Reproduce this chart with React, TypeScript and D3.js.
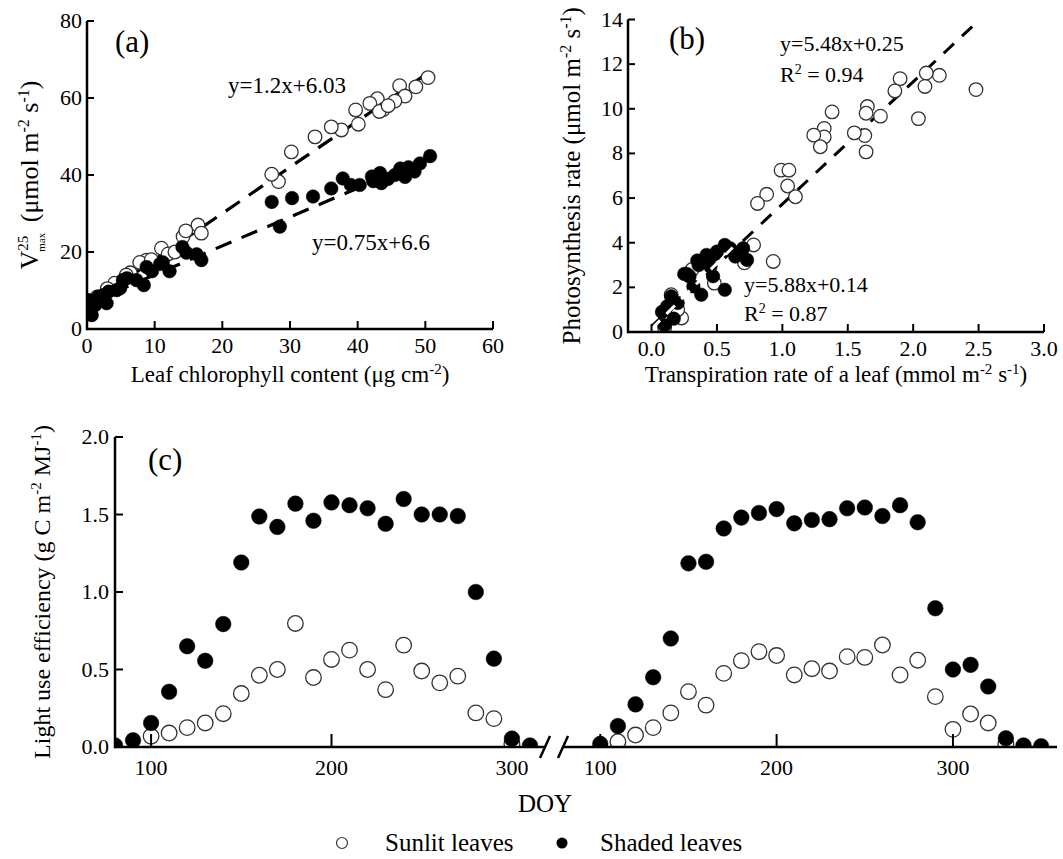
import React from 'react';
import * as d3 from 'd3';

// ---------- Panel (a): Vmax25 vs leaf chlorophyll ----------
const chlSunX = [50.4, 48.6, 46.2, 47.0, 45.5, 42.9, 41.8, 43.8, 43.2, 44.5, 39.7, 40.1, 37.6, 36.1, 33.7, 30.2, 28.3, 27.3, 16.4, 16.9, 14.2, 14.6, 11.0, 12.0, 8.8, 7.8, 6.4, 5.8, 4.1, 3.0, 1.5, 0.5, 9.5, 13.0];
const chlSunY = [65.3, 62.9, 63.2, 60.5, 59.2, 59.8, 58.6, 57.0, 56.5, 58.0, 56.9, 53.2, 51.7, 52.5, 49.9, 46.0, 38.3, 40.2, 27.0, 24.9, 24.0, 25.5, 21.0, 19.5, 17.9, 17.3, 14.6, 14.0, 11.9, 10.5, 8.3, 6.5, 18.0, 20.0];
const chlShX = [50.7, 49.2, 48.4, 47.5, 46.3, 45.5, 47.0, 44.5, 43.3, 42.1, 43.5, 42.3, 40.3, 39.0, 37.8, 36.1, 33.4, 30.3, 27.3, 28.5, 16.9, 16.2, 14.1, 14.7, 12.2, 11.2, 10.8, 9.6, 8.8, 8.4, 7.3, 5.9, 5.3, 4.9, 4.4, 3.2, 2.9, 2.4, 1.7, 1.2, 0.4, 0.7, 0.2, 0.3];
const chlShY = [44.9, 43.0, 40.9, 42.0, 41.7, 40.0, 39.5, 39.0, 40.5, 39.6, 37.9, 38.4, 37.4, 37.4, 39.1, 36.5, 34.4, 34.0, 33.0, 26.6, 17.9, 19.4, 21.3, 19.8, 15.0, 17.3, 16.9, 15.0, 16.1, 11.4, 12.7, 13.2, 12.7, 10.6, 10.1, 9.7, 6.7, 8.8, 8.4, 6.2, 4.5, 3.6, 7.5, 5.5];
const fitA = [
  { slope: 1.2, intercept: 6.03, from: 0, to: 50.5 },
  { slope: 0.75, intercept: 6.6, from: 0, to: 50.5 },
];
const ticksAX = [0, 10, 20, 30, 40, 50, 60];
const ticksAY = [0, 20, 40, 60, 80];

// ---------- Panel (b): photosynthesis vs transpiration ----------
const trSunX = [2.48, 2.2, 2.1, 2.09, 1.9, 1.86, 2.04, 1.75, 1.65, 1.64, 1.63, 1.64, 1.55, 1.38, 1.32, 1.32, 1.24, 1.29, 0.99, 1.05, 1.04, 1.1, 0.88, 0.81, 0.93, 0.78, 0.71, 0.48, 0.23, 0.15, 0.31, 0.1, 0.2];
const trSunY = [10.86, 11.5, 11.6, 11.0, 11.35, 10.8, 9.56, 9.67, 10.1, 9.8, 8.8, 8.07, 8.92, 9.86, 9.12, 8.74, 8.82, 8.3, 7.25, 7.25, 6.54, 6.06, 6.17, 5.76, 3.16, 3.9, 3.1, 2.19, 0.63, 1.67, 2.8, 0.2, 1.0];
const trShX = [0.56, 0.70, 0.73, 0.64, 0.48, 0.41, 0.36, 0.45, 0.29, 0.27, 0.47, 0.32, 0.38, 0.56, 0.15, 0.12, 0.2, 0.1, 0.17, 0.08, 0.25, 0.35, 0.5, 0.42, 0.6];
const trShY = [3.9, 3.75, 3.23, 3.38, 3.46, 3.23, 3.0, 2.93, 2.49, 2.6, 2.5, 2.04, 1.67, 1.89, 1.6, 1.15, 1.3, 0.3, 0.6, 0.9, 2.6, 3.2, 3.6, 3.45, 3.75];
const fitBSun = { slope: 5.48, intercept: 0.25, from: 0, to: 2.46 };
const fitBSh = { slope: 5.88, intercept: 0.14, from: 0.0, to: 0.62 };
const ticksBX = [0, 0.5, 1.0, 1.5, 2.0, 2.5, 3.0];
const ticksBY = [0, 2, 4, 6, 8, 10, 12, 14];

// ---------- Panel (c): light use efficiency vs DOY (two years) ----------
const doyL_sh = [80, 90, 100, 110, 120, 130, 140, 150, 160, 170, 180, 190, 200, 210, 220, 230, 240, 250, 260, 270, 280, 290, 300, 310];
const lueL_sh = [0.01, 0.043, 0.155, 0.356, 0.65, 0.556, 0.793, 1.19, 1.487, 1.42, 1.57, 1.46, 1.578, 1.56, 1.54, 1.44, 1.60, 1.50, 1.50, 1.49, 1.00, 0.57, 0.054, 0.01];
const doyL_sun = [100, 110, 120, 130, 140, 150, 160, 170, 180, 190, 200, 210, 220, 230, 240, 250, 260, 270, 280, 290, 300];
const lueL_sun = [0.069, 0.09, 0.125, 0.155, 0.215, 0.345, 0.463, 0.5, 0.797, 0.448, 0.565, 0.625, 0.5, 0.37, 0.657, 0.49, 0.414, 0.457, 0.22, 0.183, 0.02];
const doyR_sh = [100, 110, 120, 130, 140, 150, 160, 170, 180, 190, 200, 210, 220, 230, 240, 250, 260, 270, 280, 290, 300, 310, 320, 330, 340, 350];
const lueR_sh = [0.02, 0.135, 0.275, 0.45, 0.70, 1.185, 1.195, 1.41, 1.48, 1.51, 1.535, 1.443, 1.465, 1.47, 1.54, 1.545, 1.49, 1.56, 1.45, 0.895, 0.50, 0.53, 0.39, 0.056, 0.01, 0.005];
const doyR_sun = [110, 120, 130, 140, 150, 160, 170, 180, 190, 200, 210, 220, 230, 240, 250, 260, 270, 280, 290, 300, 310, 320, 330];
const lueR_sun = [0.034, 0.077, 0.125, 0.22, 0.357, 0.27, 0.475, 0.557, 0.615, 0.59, 0.465, 0.505, 0.49, 0.583, 0.578, 0.658, 0.465, 0.56, 0.325, 0.114, 0.213, 0.155, 0.02];
const ticksCX = [100, 200, 300];
const ticksCY = [0, 0.5, 1.0, 1.5, 2.0];

const legendLabels = ['Sunlit leaves', 'Shaded leaves'];

const serif = "'Liberation Serif', 'Times New Roman', Times, serif";
const AXW = 2.5;

type Scale = d3.ScaleLinear<number, number>;

function Dots({ xs, ys, sx, sy, filled, r }: { xs: number[]; ys: number[]; sx: Scale; sy: Scale; filled: boolean; r: number }) {
  return (
    <g>
      {xs.map((x, i) => (
        <circle key={i} cx={sx(x)} cy={sy(ys[i])} r={r}
          fill={filled ? '#000' : '#fff'} stroke={filled ? '#000' : '#333'} strokeWidth={filled ? 0.5 : 1.3} />
      ))}
    </g>
  );
}

export default function App() {
  const xA = d3.scaleLinear().domain([0, 60]).range([87, 493]);
  const yA = d3.scaleLinear().domain([0, 80]).range([329, 21]);
  const xB = d3.scaleLinear().domain([-0.18, 3.0]).range([628, 1044]);
  const yB = d3.scaleLinear().domain([0, 14]).range([332, 19.5]);
  const xCL = d3.scaleLinear().domain([80, 320]).range([115, 548]);
  const xCR = d3.scaleLinear().domain([80, 359]).range([565, 1057]);
  const yC = d3.scaleLinear().domain([0, 2]).range([747, 437]);

  const line = (sx: Scale, sy: Scale, f: { slope: number; intercept: number; from: number; to: number }) =>
    d3.line<number>().x((x) => sx(x)).y((x) => sy(f.slope * x + f.intercept))([f.from, f.to]) || '';

  const tickFont = 22;
  const fmt1 = d3.format('.1f');

  const [xa0, xa1] = xA.range();
  const [ya0, ya1] = yA.range();
  const [xb0, xb1] = xB.range();
  const [yb0, yb1] = yB.range();
  const [xl0, xl1] = xCL.range();
  const [xr0, xr1] = xCR.range();
  const [yc0, yc1] = yC.range();

  return (
    <svg width={1063} height={859} style={{ position: 'absolute', left: 0, top: 0, background: '#fff', fontFamily: serif }}>
      <style>{`text { font-family: ${serif}; fill: #000; }`}</style>
      <defs>
        <clipPath id="clipA"><rect x={xa0} y={ya1 - 10} width={xa1 - xa0 + 10} height={ya0 - ya1 + 10} /></clipPath>
        <clipPath id="clipB"><rect x={xb0} y={yb1 - 10} width={xb1 - xb0 + 10} height={yb0 - yb1 + 10} /></clipPath>
        <clipPath id="clipCL"><rect x={xl0} y={yc1 - 10} width={xl1 - xl0} height={yc0 - yc1 + 10} /></clipPath>
        <clipPath id="clipCR"><rect x={xr0} y={yc1 - 10} width={xr1 - xr0 + 5} height={yc0 - yc1 + 10} /></clipPath>
      </defs>
      <rect x={0} y={0} width={1063} height={859} fill="#fff" />

      {/* ---------------- Panel (a) ---------------- */}
      <g>
        <g clipPath="url(#clipA)">
          {fitA.map((f, i) => (
            <path key={i} d={line(xA, yA, f)} stroke="#000" strokeWidth={3.2} strokeDasharray="17 11" fill="none" />
          ))}
          <Dots xs={chlSunX} ys={chlSunY} sx={xA} sy={yA} filled={false} r={6.8} />
          <Dots xs={chlShX} ys={chlShY} sx={xA} sy={yA} filled={true} r={6.8} />
        </g>
        <line x1={xa0} x2={xa0} y1={ya1} y2={ya0 + AXW / 2} stroke="#000" strokeWidth={AXW} />
        <line x1={xa0} x2={xa1} y1={ya0} y2={ya0} stroke="#000" strokeWidth={AXW} />
        {ticksAY.map((t) => (
          <g key={t}>
            <line x1={xa0} x2={xa0 + 7} y1={yA(t)} y2={yA(t)} stroke="#000" strokeWidth={2} />
            <text x={xa0 - 5} y={yA(t) + 7} textAnchor="end" fontSize={tickFont}>{t}</text>
          </g>
        ))}
        {ticksAX.map((t) => (
          <g key={t}>
            <line x1={xA(t)} x2={xA(t)} y1={ya0} y2={ya0 - 8} stroke="#000" strokeWidth={2} />
            <text x={xA(t)} y={ya0 + 24} textAnchor="middle" fontSize={tickFont}>{t}</text>
          </g>
        ))}
        <text x={115} y={52} fontSize={31}>(a)</text>
        <text x={228} y={93} fontSize={23}>y=1.2x+6.03</text>
        <text x={312} y={250} fontSize={23}>y=0.75x+6.6</text>
        <text x={(xa0 + xa1) / 2} y={382} textAnchor="middle" fontSize={23}>
          Leaf chlorophyll content (μg cm<tspan dy={-8} fontSize={15}>-2</tspan><tspan dy={8}>)</tspan>
        </text>
        <text transform={`translate(38,${(ya0 + ya1) / 2}) rotate(-90)`} textAnchor="middle" fontSize={26}>
          V<tspan dy={-10} fontSize={15}>25</tspan><tspan dx={-16} dy={17} fontSize={11}>max</tspan>
          <tspan dy={-7} dx={4}> (μmol m</tspan><tspan dy={-9} fontSize={16}>-2</tspan>
          <tspan dy={9}> s</tspan><tspan dy={-9} fontSize={16}>-1</tspan><tspan dy={9}>)</tspan>
        </text>
      </g>

      {/* ---------------- Panel (b) ---------------- */}
      <g>
        <g clipPath="url(#clipB)">
          <path d={line(xB, yB, fitBSun)} stroke="#000" strokeWidth={3} strokeDasharray="14 11" fill="none" />
          <Dots xs={trSunX} ys={trSunY} sx={xB} sy={yB} filled={false} r={6.8} />
          <Dots xs={trShX} ys={trShY} sx={xB} sy={yB} filled={true} r={6.8} />
          <path d={line(xB, yB, fitBSh)} stroke="#fff" strokeWidth={3} strokeDasharray="12 9" fill="none" />
        </g>
        <line x1={xb0} x2={xb0} y1={yb1} y2={yb0 + AXW / 2} stroke="#000" strokeWidth={AXW} />
        <line x1={xb0} x2={xb1} y1={yb0} y2={yb0} stroke="#000" strokeWidth={AXW} />
        {ticksBY.map((t) => (
          <g key={t}>
            <line x1={xb0} x2={xb0 + 7} y1={yB(t)} y2={yB(t)} stroke="#000" strokeWidth={2} />
            <text x={xb0 - 5} y={yB(t) + 7} textAnchor="end" fontSize={tickFont}>{t}</text>
          </g>
        ))}
        {ticksBX.map((t) => (
          <g key={t}>
            <line x1={xB(t)} x2={xB(t)} y1={yb0} y2={yb0 - 8} stroke="#000" strokeWidth={2} />
            <text x={xB(t)} y={yb0 + 24} textAnchor="middle" fontSize={tickFont}>{fmt1(t)}</text>
          </g>
        ))}
        <text x={669} y={49} fontSize={31}>(b)</text>
        <text x={780} y={51} fontSize={22}>y=5.48x+0.25</text>
        <text x={780} y={82} fontSize={22}>R<tspan dy={-8} fontSize={14}>2</tspan><tspan dy={8}> = 0.94</tspan></text>
        <text x={744} y={292} fontSize={22}>y=5.88x+0.14</text>
        <text x={744} y={321} fontSize={22}>R<tspan dy={-8} fontSize={14}>2</tspan><tspan dy={8}> = 0.87</tspan></text>
        <text x={(xb0 + xb1) / 2} y={382} textAnchor="middle" fontSize={23}>
          Transpiration rate of a leaf (mmol m<tspan dy={-8} fontSize={15}>-2</tspan>
          <tspan dy={8}> s</tspan><tspan dy={-8} fontSize={15}>-1</tspan><tspan dy={8}>)</tspan>
        </text>
        <text transform={`translate(580,${(yb0 + yb1) / 2}) rotate(-90)`} textAnchor="middle" fontSize={25}>
          Photosynthesis rate (μmol m<tspan dy={-9} fontSize={16}>-2</tspan>
          <tspan dy={9}> s</tspan><tspan dy={-9} fontSize={16}>-1</tspan><tspan dy={9}>)</tspan>
        </text>
      </g>

      {/* ---------------- Panel (c) ---------------- */}
      <g>
        <g clipPath="url(#clipCL)">
          <Dots xs={doyL_sun} ys={lueL_sun} sx={xCL} sy={yC} filled={false} r={7.8} />
          <Dots xs={doyL_sh} ys={lueL_sh} sx={xCL} sy={yC} filled={true} r={7.8} />
        </g>
        <g clipPath="url(#clipCR)">
          <Dots xs={doyR_sun} ys={lueR_sun} sx={xCR} sy={yC} filled={false} r={7.8} />
          <Dots xs={doyR_sh} ys={lueR_sh} sx={xCR} sy={yC} filled={true} r={7.8} />
        </g>
        <line x1={xl0} x2={xl0} y1={yc1} y2={yc0 + AXW / 2} stroke="#000" strokeWidth={AXW} />
        <line x1={xl0} x2={xl1 - 3} y1={yc0} y2={yc0} stroke="#000" strokeWidth={AXW} />
        <line x1={xr0 - 2} x2={xr1} y1={yc0} y2={yc0} stroke="#000" strokeWidth={AXW} />
        <line x1={xl1 - 8} x2={xl1 + 2} y1={yc0 + 11} y2={yc0 - 11} stroke="#000" strokeWidth={2.5} />
        <line x1={xr0 - 7} x2={xr0 + 3} y1={yc0 + 11} y2={yc0 - 11} stroke="#000" strokeWidth={2.5} />
        {ticksCY.map((t) => (
          <g key={t}>
            <line x1={xl0} x2={xl0 + 8} y1={yC(t)} y2={yC(t)} stroke="#000" strokeWidth={2} />
            <text x={xl0 - 6} y={yC(t) + 7} textAnchor="end" fontSize={tickFont}>{fmt1(t)}</text>
          </g>
        ))}
        {ticksCX.map((t) => (
          <g key={'l' + t}>
            <line x1={xCL(t)} x2={xCL(t)} y1={yc0} y2={yc0 - 13} stroke="#000" strokeWidth={2} />
            <text x={xCL(t)} y={yc0 + 28} textAnchor="middle" fontSize={tickFont}>{t}</text>
          </g>
        ))}
        {ticksCX.map((t) => (
          <g key={'r' + t}>
            <line x1={xCR(t)} x2={xCR(t)} y1={yc0} y2={yc0 - 13} stroke="#000" strokeWidth={2} />
            <text x={xCR(t)} y={yc0 + 28} textAnchor="middle" fontSize={tickFont}>{t}</text>
          </g>
        ))}
        <text x={148} y={470} fontSize={31}>(c)</text>
        <text x={545} y={812} textAnchor="middle" fontSize={25}>DOY</text>
        <text transform={`translate(50,${(yc0 + yc1) / 2}) rotate(-90)`} textAnchor="middle" fontSize={24}>
          Light use efficiency (g C m<tspan dy={-9} fontSize={15}>-2</tspan>
          <tspan dy={9}> MJ</tspan><tspan dy={-9} fontSize={15}>-1</tspan><tspan dy={9}>)</tspan>
        </text>
        <circle cx={342} cy={843} r={5.5} fill="#fff" stroke="#333" strokeWidth={1.2} />
        <text x={385} y={851} fontSize={25}>{legendLabels[0]}</text>
        <circle cx={562} cy={843} r={5.5} fill="#000" />
        <text x={600} y={851} fontSize={25}>{legendLabels[1]}</text>
      </g>
    </svg>
  );
}
